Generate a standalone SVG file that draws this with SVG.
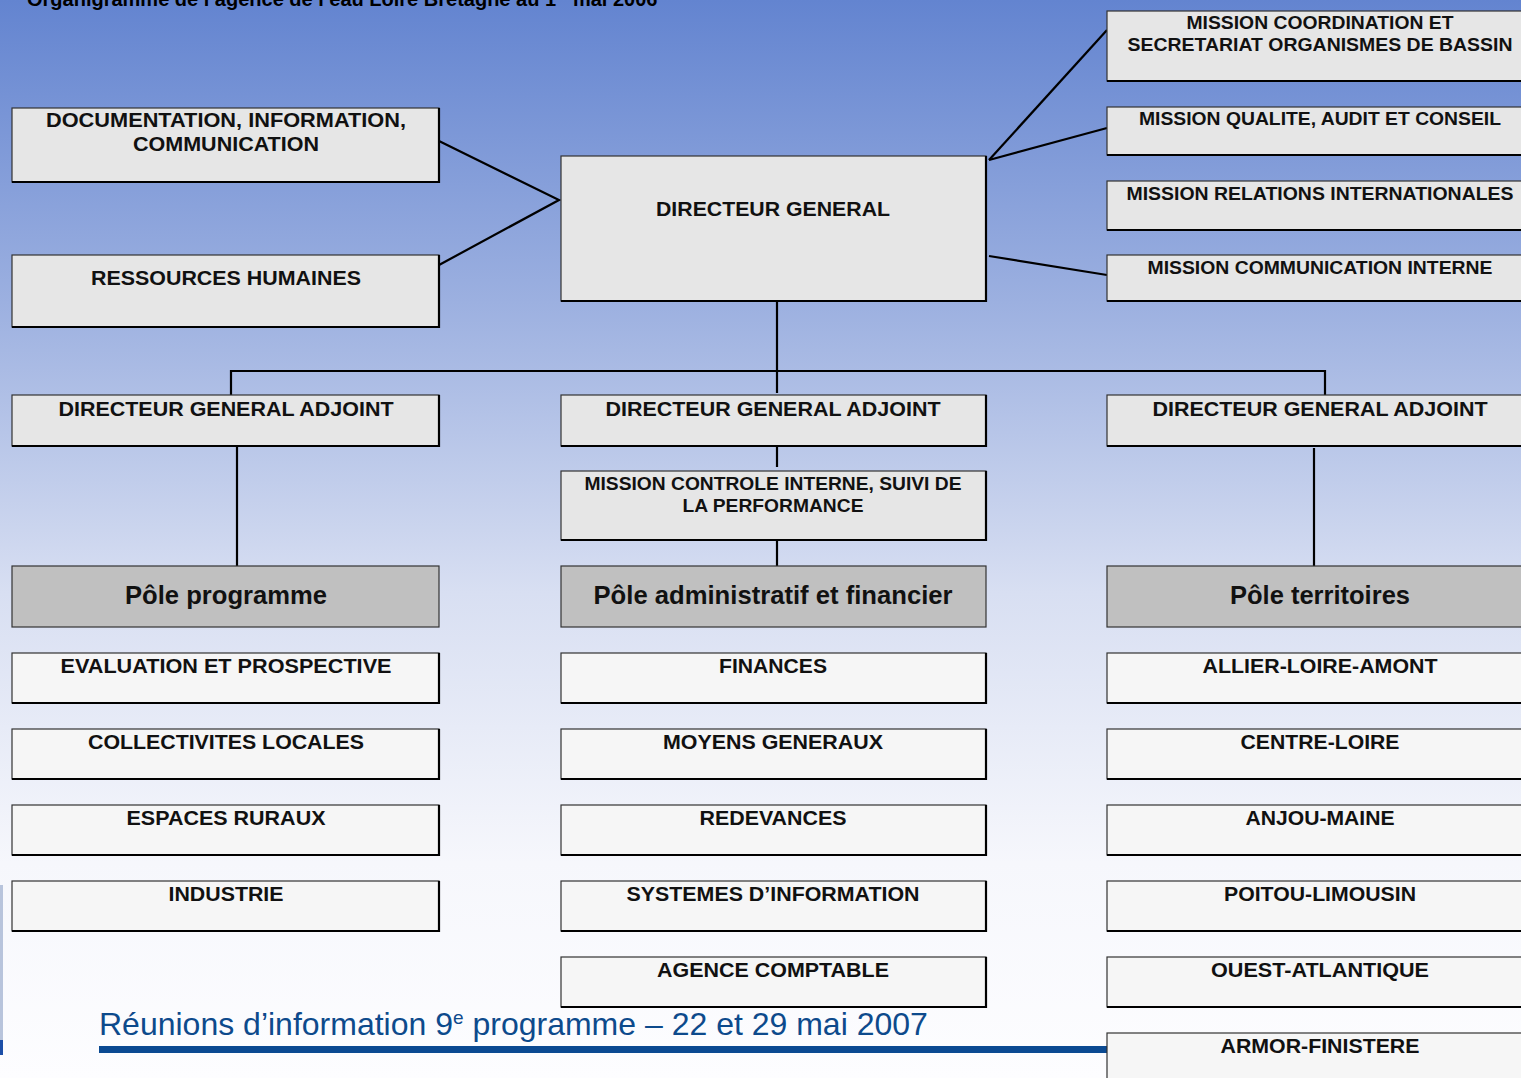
<svg xmlns="http://www.w3.org/2000/svg" width="1521" height="1078" viewBox="0 0 1521 1078">
<defs>
<linearGradient id="bg" x1="0" y1="0" x2="0" y2="1078" gradientUnits="userSpaceOnUse">
<stop offset="0" stop-color="#6384d0"/>
<stop offset="0.28" stop-color="#9cb0e0"/>
<stop offset="0.55" stop-color="#d8dff2"/>
<stop offset="0.8" stop-color="#f6f7fc"/>
<stop offset="1" stop-color="#fdfdff"/>
</linearGradient>
</defs>
<style>
.b{stroke:#333;stroke-width:1.2}
.g{fill:#e6e6e6}
.p{fill:#c0c0c0}
.w{fill:#f6f6f6}
.sh{fill:none;stroke:#000;stroke-width:2.2}
text{font-family:"Liberation Sans",Arial,sans-serif;font-weight:bold;fill:#111;text-anchor:middle}
.s{font-size:18px}
.m{font-size:19.5px}
.l{font-size:25px}
.c{fill:none;stroke:#000;stroke-width:2.2}
</style>
<rect x="0" y="0" width="1521" height="1078" fill="url(#bg)"/>
<rect x="0" y="885" width="3" height="170" fill="#b8c4dc"/>
<rect x="0" y="1040" width="3" height="15" fill="#1d4fa8"/>
<text x="27" y="6" style="font-size:20px;text-anchor:start;fill:#000">Organigramme de l’agence de l’eau Loire Bretagne au 1<tspan dy="-9" style="font-size:12px">er</tspan><tspan dy="9"> mai 2006</tspan></text>

<g id="connectors">
<polyline class="c" points="439,141 559,200 439,265"/>
<line class="c" x1="989" y1="160" x2="1107" y2="30"/>
<line class="c" x1="989" y1="160" x2="1107" y2="128"/>
<line class="c" x1="989" y1="256" x2="1107" y2="275"/>
<line class="c" x1="777" y1="301" x2="777" y2="393"/>
<polyline class="c" points="231,395 231,371 1325,371 1325,395"/>
<line class="c" x1="777" y1="446" x2="777" y2="467"/>
<line class="c" x1="777" y1="535" x2="777" y2="573"/>
<line class="c" x1="237" y1="446" x2="237" y2="566"/>
<line class="c" x1="1314" y1="448" x2="1314" y2="566"/>
</g>

<g id="doc"><rect class="b g" x="12" y="108" width="427" height="74"/><polyline class="sh" points="12,182 439,182 439,108"/><text class="m" x="226" y="127" textLength="360" lengthAdjust="spacingAndGlyphs">DOCUMENTATION, INFORMATION,</text><text class="m" x="226" y="151" textLength="186" lengthAdjust="spacingAndGlyphs">COMMUNICATION</text></g>
<g id="rh"><rect class="b g" x="12" y="255" width="427" height="72"/><polyline class="sh" points="12,327 439,327 439,255"/><text class="m" x="226" y="285" textLength="270" lengthAdjust="spacingAndGlyphs">RESSOURCES HUMAINES</text></g>
<g id="dg"><rect class="b g" x="561" y="156" width="425" height="145"/><polyline class="sh" points="561,301 986,301 986,156"/><text class="m" x="773" y="216" textLength="234" lengthAdjust="spacingAndGlyphs">DIRECTEUR GENERAL</text></g>

<g id="m1"><rect class="b g" x="1107" y="11" width="420" height="70"/><line class="sh" x1="1107" y1="81" x2="1521" y2="81"/><text class="s" x="1320" y="29" textLength="267" lengthAdjust="spacingAndGlyphs">MISSION COORDINATION ET</text><text class="s" x="1320" y="51" textLength="385" lengthAdjust="spacingAndGlyphs">SECRETARIAT ORGANISMES DE BASSIN</text></g>
<g id="m2"><rect class="b g" x="1107" y="107" width="420" height="48"/><line class="sh" x1="1107" y1="155" x2="1521" y2="155"/><text class="s" x="1320" y="125" textLength="362" lengthAdjust="spacingAndGlyphs">MISSION QUALITE, AUDIT ET CONSEIL</text></g>
<g id="m3"><rect class="b g" x="1107" y="181" width="420" height="49"/><line class="sh" x1="1107" y1="230" x2="1521" y2="230"/><text class="s" x="1320" y="200" textLength="387" lengthAdjust="spacingAndGlyphs">MISSION RELATIONS INTERNATIONALES</text></g>
<g id="m4"><rect class="b g" x="1107" y="255" width="420" height="46"/><line class="sh" x1="1107" y1="301" x2="1521" y2="301"/><text class="s" x="1320" y="274" textLength="345" lengthAdjust="spacingAndGlyphs">MISSION COMMUNICATION INTERNE</text></g>

<g id="dga1"><rect class="b g" x="12" y="395" width="427" height="51"/><polyline class="sh" points="12,446 439,446 439,395"/><text class="m" x="226" y="416" textLength="335" lengthAdjust="spacingAndGlyphs">DIRECTEUR GENERAL ADJOINT</text></g>
<g id="dga2"><rect class="b g" x="561" y="395" width="425" height="51"/><polyline class="sh" points="561,446 986,446 986,395"/><text class="m" x="773" y="416" textLength="335" lengthAdjust="spacingAndGlyphs">DIRECTEUR GENERAL ADJOINT</text></g>
<g id="dga3"><rect class="b g" x="1107" y="395" width="420" height="51"/><line class="sh" x1="1107" y1="446" x2="1521" y2="446"/><text class="m" x="1320" y="416" textLength="335" lengthAdjust="spacingAndGlyphs">DIRECTEUR GENERAL ADJOINT</text></g>

<g id="mci"><rect class="b g" x="561" y="471" width="425" height="69"/><polyline class="sh" points="561,540 986,540 986,471"/><text class="s" x="773" y="490" textLength="377" lengthAdjust="spacingAndGlyphs">MISSION CONTROLE INTERNE, SUIVI DE</text><text class="s" x="773" y="512" textLength="181" lengthAdjust="spacingAndGlyphs">LA PERFORMANCE</text></g>

<g id="pole1"><rect class="b p" x="12" y="566" width="427" height="61"/><text class="l" x="226" y="604" textLength="202" lengthAdjust="spacingAndGlyphs">Pôle programme</text></g>
<g id="pole2"><rect class="b p" x="561" y="566" width="425" height="61"/><text class="l" x="773" y="604" textLength="359" lengthAdjust="spacingAndGlyphs">Pôle administratif et financier</text></g>
<g id="pole3"><rect class="b p" x="1107" y="566" width="420" height="61"/><text class="l" x="1320" y="604" textLength="180" lengthAdjust="spacingAndGlyphs">Pôle territoires</text></g>

<g id="l1"><rect class="b w" x="12" y="653" width="427" height="50"/><polyline class="sh" points="12,703 439,703 439,653"/><text class="m" x="226" y="673" textLength="331" lengthAdjust="spacingAndGlyphs">EVALUATION ET PROSPECTIVE</text></g>
<g id="l2"><rect class="b w" x="12" y="729" width="427" height="50"/><polyline class="sh" points="12,779 439,779 439,729"/><text class="m" x="226" y="749" textLength="276" lengthAdjust="spacingAndGlyphs">COLLECTIVITES LOCALES</text></g>
<g id="l3"><rect class="b w" x="12" y="805" width="427" height="50"/><polyline class="sh" points="12,855 439,855 439,805"/><text class="m" x="226" y="825" textLength="199" lengthAdjust="spacingAndGlyphs">ESPACES RURAUX</text></g>
<g id="l4"><rect class="b w" x="12" y="881" width="427" height="50"/><polyline class="sh" points="12,931 439,931 439,881"/><text class="m" x="226" y="901" textLength="115" lengthAdjust="spacingAndGlyphs">INDUSTRIE</text></g>

<g id="c1"><rect class="b w" x="561" y="653" width="425" height="50"/><polyline class="sh" points="561,703 986,703 986,653"/><text class="m" x="773" y="673" textLength="108" lengthAdjust="spacingAndGlyphs">FINANCES</text></g>
<g id="c2"><rect class="b w" x="561" y="729" width="425" height="50"/><polyline class="sh" points="561,779 986,779 986,729"/><text class="m" x="773" y="749" textLength="220" lengthAdjust="spacingAndGlyphs">MOYENS GENERAUX</text></g>
<g id="c3"><rect class="b w" x="561" y="805" width="425" height="50"/><polyline class="sh" points="561,855 986,855 986,805"/><text class="m" x="773" y="825" textLength="147" lengthAdjust="spacingAndGlyphs">REDEVANCES</text></g>
<g id="c4"><rect class="b w" x="561" y="881" width="425" height="50"/><polyline class="sh" points="561,931 986,931 986,881"/><text class="m" x="773" y="901" textLength="293" lengthAdjust="spacingAndGlyphs">SYSTEMES D’INFORMATION</text></g>
<g id="c5"><rect class="b w" x="561" y="957" width="425" height="50"/><polyline class="sh" points="561,1007 986,1007 986,957"/><text class="m" x="773" y="977" textLength="232" lengthAdjust="spacingAndGlyphs">AGENCE COMPTABLE</text></g>

<g id="r1"><rect class="b w" x="1107" y="653" width="420" height="50"/><line class="sh" x1="1107" y1="703" x2="1521" y2="703"/><text class="m" x="1320" y="673" textLength="235" lengthAdjust="spacingAndGlyphs">ALLIER-LOIRE-AMONT</text></g>
<g id="r2"><rect class="b w" x="1107" y="729" width="420" height="50"/><line class="sh" x1="1107" y1="779" x2="1521" y2="779"/><text class="m" x="1320" y="749" textLength="159" lengthAdjust="spacingAndGlyphs">CENTRE-LOIRE</text></g>
<g id="r3"><rect class="b w" x="1107" y="805" width="420" height="50"/><line class="sh" x1="1107" y1="855" x2="1521" y2="855"/><text class="m" x="1320" y="825" textLength="149" lengthAdjust="spacingAndGlyphs">ANJOU-MAINE</text></g>
<g id="r4"><rect class="b w" x="1107" y="881" width="420" height="50"/><line class="sh" x1="1107" y1="931" x2="1521" y2="931"/><text class="m" x="1320" y="901" textLength="192" lengthAdjust="spacingAndGlyphs">POITOU-LIMOUSIN</text></g>
<g id="r5"><rect class="b w" x="1107" y="957" width="420" height="50"/><line class="sh" x1="1107" y1="1007" x2="1521" y2="1007"/><text class="m" x="1320" y="977" textLength="218" lengthAdjust="spacingAndGlyphs">OUEST-ATLANTIQUE</text></g>

<rect x="99" y="1046" width="1010" height="7" fill="#0b4a92"/>
<text x="99" y="1035" style="font-size:32px;font-weight:normal;text-anchor:start;fill:#0d4a8c">Réunions d’information 9<tspan dy="-11" style="font-size:19px">e</tspan><tspan dy="11"> programme – 22 et 29 mai 2007</tspan></text>

<g id="r6"><rect class="b w" x="1107" y="1033" width="420" height="50"/><text class="m" x="1320" y="1053" textLength="199" lengthAdjust="spacingAndGlyphs">ARMOR-FINISTERE</text></g>
</svg>
